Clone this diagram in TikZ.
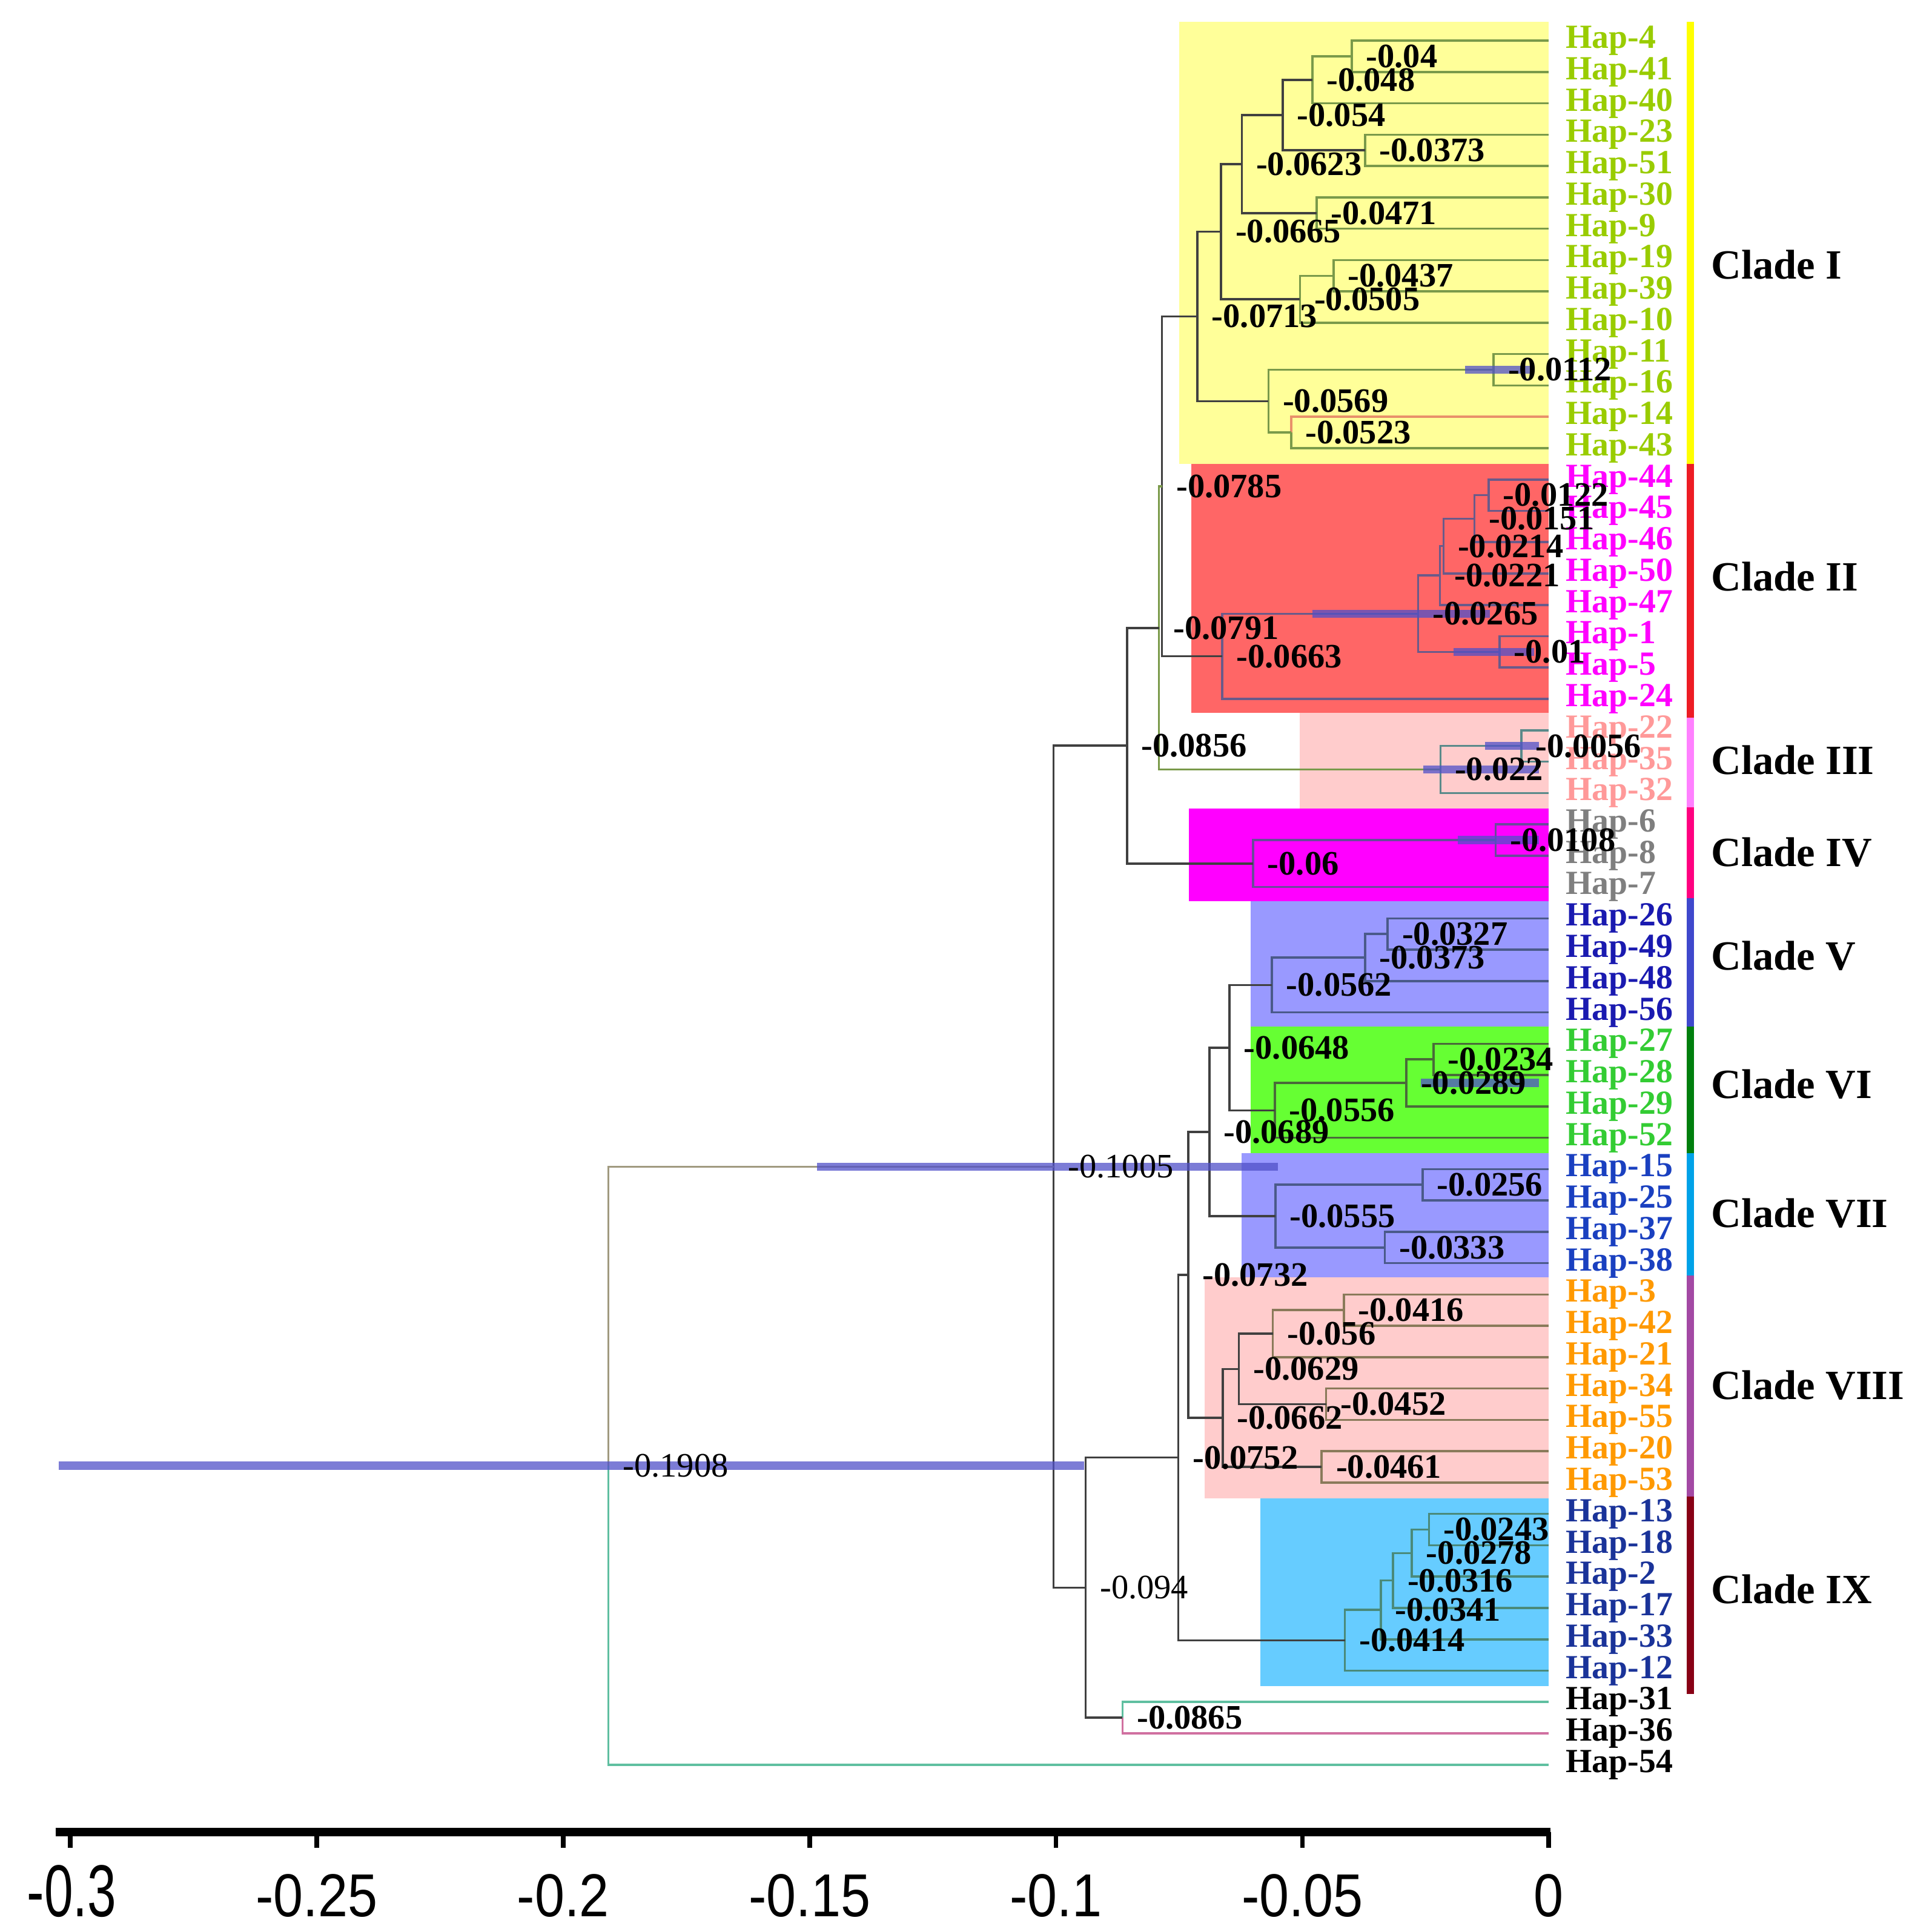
\documentclass[tikz,border=0pt]{standalone}
\usepackage{tikz}
\usepackage{fontspec}
\setmainfont{Liberation Serif}
\newfontfamily\axisfont{Liberation Sans}

\pgfdeclarelayer{background}
\pgfdeclarelayer{foreground}
\pgfsetlayers{background,main,foreground}

% tip label colours
\definecolor{cIt}{HTML}{99CC00}
\definecolor{cIIt}{HTML}{FF00FF}
\definecolor{cIIIt}{HTML}{FF9999}
\definecolor{cIVt}{HTML}{7F7F7F}
\definecolor{cVt}{HTML}{1A1AB0}
\definecolor{cVIt}{HTML}{33CC33}
\definecolor{cVIIt}{HTML}{1A40C0}
\definecolor{cVIIIt}{HTML}{FF9900}
\definecolor{cIXt}{HTML}{1A3399}
% clade shading
\definecolor{bgI}{HTML}{FFFF99}
\definecolor{bgII}{HTML}{FF6666}
\definecolor{bgIII}{HTML}{FFCCCC}
\definecolor{bgIV}{HTML}{FF00FF}
\definecolor{bgV}{HTML}{9999FF}
\definecolor{bgVI}{HTML}{66FF33}
\definecolor{bgVII}{HTML}{9999FF}
\definecolor{bgVIII}{HTML}{FFCCCC}
\definecolor{bgIX}{HTML}{66CCFF}
% side bars
\definecolor{barI}{HTML}{FFFF00}
\definecolor{barII}{HTML}{ED1C24}
\definecolor{barIII}{HTML}{FF80FF}
\definecolor{barIV}{HTML}{FF0080}
\definecolor{barV}{HTML}{3F48CC}
\definecolor{barVI}{HTML}{007F0E}
\definecolor{barVII}{HTML}{00A2E8}
\definecolor{barVIII}{HTML}{A349A4}
\definecolor{barIX}{HTML}{880015}
% branches
\definecolor{lnbk}{HTML}{404040}
\definecolor{lnI}{HTML}{7A9A4A}
\definecolor{lnII}{HTML}{6A5A8A}
\definecolor{lnIII}{HTML}{5A8A8A}
\definecolor{lnIV}{HTML}{6A4A9A}
\definecolor{lnV}{HTML}{4A5A8A}
\definecolor{lnVI}{HTML}{4A6A3A}
\definecolor{lnVIII}{HTML}{8A7A5A}
\definecolor{lnIX}{HTML}{4A8A7A}
\definecolor{lnroot}{HTML}{A09A80}
\definecolor{lnteal}{HTML}{5FBFA0}
\definecolor{lnpink}{HTML}{D070A0}
\definecolor{lnsalmon}{HTML}{E8906A}
\definecolor{hpdblue}{HTML}{5050C8}

\tikzset{
  bk/.style={draw=lnbk, line width=0.5pt},
  brI/.style={draw=lnI, line width=0.5pt},
  brII/.style={draw=lnII, line width=0.5pt},
  brIII/.style={draw=lnIII, line width=0.5pt},
  brIV/.style={draw=lnIV, line width=0.5pt},
  brV/.style={draw=lnV, line width=0.5pt},
  brVI/.style={draw=lnVI, line width=0.5pt},
  brVIII/.style={draw=lnVIII, line width=0.5pt},
  brIX/.style={draw=lnIX, line width=0.5pt},
  hpd/.style={draw=hpdblue, line width=1.9pt, draw opacity=0.75},
  nlab/.style={anchor=west, inner sep=0pt, xshift=0.11cm, font=\fontsize{7.9}{9}\selectfont\bfseries},
  hap/.style={anchor=west, inner sep=0pt, xshift=0.13cm, font=\fontsize{7.8}{9}\selectfont\bfseries},
  cladelab/.style={anchor=west, inner sep=0pt, font=\fontsize{9.6}{11}\selectfont\bfseries},
  cbar/.style={line width=1.7pt},
  ticklab/.style={anchor=base, inner sep=0pt, xscale=0.88, font=\axisfont\fontsize{14}{16}\selectfont}
}

% [style]{name}{height}{row}{upper child}{lower child}
\newcommand{\hjoin}[6][bk]{%
  \coordinate (#2) at (-#3,#4);
  \draw[#1] (#2) |- (#5);
  \draw[#1] (#2) |- (#6);
  \begin{pgfonlayer}{foreground}
    \node[nlab] (l#2) at (#2) {-#3};
  \end{pgfonlayer}}

\begin{document}
\begin{tikzpicture}[x=40cm, y=-0.2544cm]
\useasboundingbox (-0.31425,-1.2972) rectangle (0.073,60.338);

% clade shading
\begin{pgfonlayer}{background}
\fill[bgI] (-0.075,-0.6) rectangle (0,13.5);
\fill[bgII] (-0.0725,13.5) rectangle (0,21.45);
\fill[bgIII] (-0.0505,21.45) rectangle (0,24.5);
\fill[bgIV] (-0.073,24.5) rectangle (0,27.45);
\fill[bgV] (-0.0605,27.45) rectangle (0,31.45);
\fill[bgVI] (-0.0605,31.45) rectangle (0,35.5);
\fill[bgVII] (-0.0623,35.5) rectangle (0,39.45);
\fill[bgVIII] (-0.0698,39.45) rectangle (0,46.5);
\fill[bgIX] (-0.0585,46.5) rectangle (0,52.5);
\end{pgfonlayer}

% tips
\foreach \h [count=\i from 0] in {4,41,40,23,51,30,9,19,39,10,11,16,14,43}
  {\coordinate (t\h) at (0,\i); \node[hap,text=cIt] (h\h) at (t\h) {Hap-\h};}
\foreach \h [count=\i from 14] in {44,45,46,50,47,1,5,24}
  {\coordinate (t\h) at (0,\i); \node[hap,text=cIIt] (h\h) at (t\h) {Hap-\h};}
\foreach \h [count=\i from 22] in {22,35,32}
  {\coordinate (t\h) at (0,\i); \node[hap,text=cIIIt] (h\h) at (t\h) {Hap-\h};}
\foreach \h [count=\i from 25] in {6,8,7}
  {\coordinate (t\h) at (0,\i); \node[hap,text=cIVt] (h\h) at (t\h) {Hap-\h};}
\foreach \h [count=\i from 28] in {26,49,48,56}
  {\coordinate (t\h) at (0,\i); \node[hap,text=cVt] (h\h) at (t\h) {Hap-\h};}
\foreach \h [count=\i from 32] in {27,28,29,52}
  {\coordinate (t\h) at (0,\i); \node[hap,text=cVIt] (h\h) at (t\h) {Hap-\h};}
\foreach \h [count=\i from 36] in {15,25,37,38}
  {\coordinate (t\h) at (0,\i); \node[hap,text=cVIIt] (h\h) at (t\h) {Hap-\h};}
\foreach \h [count=\i from 40] in {3,42,21,34,55,20,53}
  {\coordinate (t\h) at (0,\i); \node[hap,text=cVIIIt] (h\h) at (t\h) {Hap-\h};}
\foreach \h [count=\i from 47] in {13,18,2,17,33,12}
  {\coordinate (t\h) at (0,\i); \node[hap,text=cIXt] (h\h) at (t\h) {Hap-\h};}
\foreach \h [count=\i from 53] in {31,36,54}
  {\coordinate (t\h) at (0,\i); \node[hap] (h\h) at (t\h) {Hap-\h};}

% clade I
\hjoin[brI]{n040}{0.04}{0.5}{t4}{t41}
\hjoin[brI]{n048}{0.048}{1.25}{n040}{t40}
\hjoin[brI]{n0373a}{0.0373}{3.5}{t23}{t51}
\hjoin{n054}{0.054}{2.375}{n048}{n0373a}
\hjoin[brI]{n0471}{0.0471}{5.5}{t30}{t9}
\hjoin{n0623}{0.0623}{3.9375}{n054}{n0471}
\hjoin[brI]{n0437}{0.0437}{7.5}{t19}{t39}
\hjoin[brI]{n0505}{0.0505}{8.25}{n0437}{t10}
\hjoin{n0665}{0.0665}{6.09375}{n0623}{n0505}
\hjoin[brI]{n0112}{0.0112}{10.5}{t11}{t16}
\hjoin[brI]{n0523}{0.0523}{12.5}{t14}{t43}
\draw[draw=lnsalmon, line width=0.5pt] (n0523) |- (t14);
\hjoin[brI]{n0569}{0.0569}{11.5}{n0112}{n0523}
\hjoin{n0713}{0.0713}{8.796875}{n0665}{n0569}
% clade II
\hjoin[brII]{n0122}{0.0122}{14.5}{t44}{t45}
\hjoin[brII]{n0151}{0.0151}{15.25}{n0122}{t46}
\hjoin[brII]{n0214}{0.0214}{16.125}{n0151}{t50}
\hjoin[brII]{n0221}{0.0221}{17.0625}{n0214}{t47}
\hjoin[brII]{n010}{0.01}{19.5}{t1}{t5}
\hjoin[brII]{n0265}{0.0265}{18.28125}{n0221}{n010}
\hjoin[brII]{n0663}{0.0663}{19.640625}{n0265}{t24}
\hjoin{n0785}{0.0785}{14.21875}{n0713}{n0663}
% clade III
\hjoin[brIII]{n0056}{0.0056}{22.5}{t22}{t35}
\hjoin[brIII]{n022}{0.022}{23.25}{n0056}{t32}
\hjoin[brI]{n0791}{0.0791}{18.734375}{n0785}{n022}
% clade IV
\hjoin[brIV]{n0108}{0.0108}{25.5}{t6}{t8}
\hjoin[brIV]{n060}{0.06}{26.25}{n0108}{t7}
\hjoin{n0856}{0.0856}{22.4921875}{n0791}{n060}
% clade V
\hjoin[brV]{n0327}{0.0327}{28.5}{t26}{t49}
\hjoin[brV]{n0373b}{0.0373}{29.25}{n0327}{t48}
\hjoin[brV]{n0562}{0.0562}{30.125}{n0373b}{t56}
% clade VI
\hjoin[brVI]{n0234}{0.0234}{32.5}{t27}{t28}
\hjoin[brVI]{n0289}{0.0289}{33.25}{n0234}{t29}
\hjoin[brVI]{n0556}{0.0556}{34.125}{n0289}{t52}
\hjoin{n0648}{0.0648}{32.125}{n0562}{n0556}
% clade VII
\hjoin[brV]{n0256}{0.0256}{36.5}{t15}{t25}
\hjoin[brV]{n0333}{0.0333}{38.5}{t37}{t38}
\hjoin[brV]{n0555}{0.0555}{37.5}{n0256}{n0333}
\hjoin{n0689}{0.0689}{34.8125}{n0648}{n0555}
% clade VIII
\hjoin[brVIII]{n0416}{0.0416}{40.5}{t3}{t42}
\hjoin[brVIII]{n056}{0.056}{41.25}{n0416}{t21}
\hjoin[brVIII]{n0452}{0.0452}{43.5}{t34}{t55}
\hjoin{n0629}{0.0629}{42.375}{n056}{n0452}
\hjoin[brVIII]{n0461}{0.0461}{45.5}{t20}{t53}
\hjoin{n0662}{0.0662}{43.9375}{n0629}{n0461}
\hjoin{n0732}{0.0732}{39.375}{n0689}{n0662}
% clade IX
\hjoin[brIX]{n0243}{0.0243}{47.5}{t13}{t18}
\hjoin[brIX]{n0278}{0.0278}{48.25}{n0243}{t2}
\hjoin[brIX]{n0316}{0.0316}{49.125}{n0278}{t17}
\hjoin[brIX]{n0341}{0.0341}{50.0625}{n0316}{t33}
\hjoin[brIX]{n0414}{0.0414}{51.03125}{n0341}{t12}
\hjoin{n0752}{0.0752}{45.203125}{n0732}{n0414}
% outgroups and root
\hjoin[draw=lnteal, line width=0.5pt]{n0865}{0.0865}{53.5}{t31}{t36}
\draw[draw=lnpink, line width=0.5pt] (n0865) |- (t36);
\begin{scope}[nlab/.append style={font=\fontsize{7.9}{9}\selectfont}]
\hjoin{n094}{0.094}{49.3515625}{n0752}{n0865}
\hjoin{n1005}{0.1005}{35.921875}{n0856}{n094}
\hjoin[draw=lnroot, line width=0.5pt]{n1908}{0.1908}{45.4609375}{n1005}{t54}
\end{scope}
\draw[draw=lnteal, line width=0.5pt] (n1908) |- (t54);

% node height intervals
\foreach \nd/\xa/\xb in {n1908/-0.3023/-0.0943, n1005/-0.1485/-0.055,
    n0265/-0.048/-0.012, n010/-0.0193/-0.003, n0112/-0.017/-0.003,
    n0056/-0.013/-0.002, n022/-0.0255/-0.002, n0108/-0.0185/-0.002,
    n0289/-0.026/-0.002}
  \draw[hpd] (\xa,0 |- \nd) -- (\xb,0 |- \nd);

% clade bars and names
\foreach \c/\ya/\yb in {I/-0.6/13.5, II/13.5/21.6, III/21.6/24.45,
    IV/24.45/27.35, V/27.35/31.45, VI/31.45/35.5, VII/35.5/39.4,
    VIII/39.4/46.45, IX/46.45/52.75}
  \draw[cbar, draw=bar\c] (0.02875,\ya) -- (0.02875,\yb);
\foreach \c/\r in {I/7.15, II/17.1, III/22.96, IV/25.9, V/29.2,
    VI/33.3, VII/37.4, VIII/42.9, IX/49.4}
  \node[cladelab] (c\c) at (0.0328,\r) {Clade \c};

% scale
\draw[line width=1.9pt] (-0.303,57.15) coordinate (ax0) -- (0.0003,57.15) coordinate (ax1);
\foreach \v in {-0.3,-0.25,-0.2,-0.15,-0.1,-0.05,0}
  \draw[line width=1.1pt] (\v,57.15) -- (\v,57.65);
\foreach \v in {-0.25,-0.2,-0.15,-0.1,-0.05,0}
  \node[ticklab] at (\v,59.85) {\v};
\node[ticklab, xscale=0.8, font=\axisfont\fontsize{17}{19}\selectfont] at (-0.2997,59.85) {-0.3};
\end{tikzpicture}
\end{document}
